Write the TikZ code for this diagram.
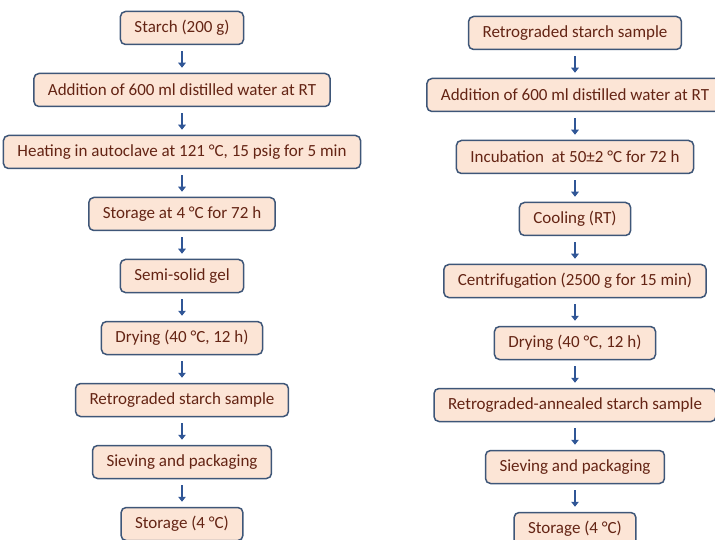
\documentclass[tikz,border=0pt]{standalone}
\usepackage{fontspec}
\setmainfont{Carlito}
\usepackage{tikz}
\usetikzlibrary{positioning, arrows.meta}
\usepackage{xcolor}
\definecolor{mpeach}{RGB}{252,229,214}
\definecolor{mslate}{RGB}{62,86,120}
\definecolor{mbrown}{RGB}{100,36,20}
\definecolor{mblue}{RGB}{48,86,150}

\begin{document}
\begin{tikzpicture}[step box/.style={draw=mslate, line width=1.5pt, fill=mpeach, rounded corners=5pt,
                         minimum height=33pt, inner xsep=14pt, text=mbrown,
                         font=\fontsize{17}{20}\selectfont},
    arrow/.style={-{Triangle[length=5pt, width=7.5pt]}, line width=2.6pt, mblue,
                  shorten <=6pt, shorten >=5pt},
    node distance=62pt,
]
\useasboundingbox (0,0) rectangle (715pt,-540pt);
\clip (0,0) rectangle (715pt,-540pt);

% left column
\node[step box] (starch) at (182pt,-28pt) {Starch (200 g)};
\node[below of=starch, step box] (water) {Addition of 600 ml distilled water at RT};
\node[below of=water, step box] (autoclave) {Heating in autoclave at 121 °C, 15 psig for 5 min};
\node[below of=autoclave, step box] (storage) {Storage at 4 °C for 72 h};
\node[below of=storage, step box] (gel) {Semi-solid gel};
\node[below of=gel, step box] (drying) {Drying (40 °C, 12 h)};
\node[below of=drying, step box] (rsample) {Retrograded starch sample};
\node[below of=rsample, step box] (sieving) {Sieving and packaging};
\node[below of=sieving, step box] (store) {Storage (4 °C)};

% right column
\node[step box] (rstart) at (575pt,-33pt) {Retrograded starch sample};
\node[below of=rstart, step box] (rwater) {Addition of 600 ml distilled water at RT};
\node[below of=rwater, step box] (incub) {Incubation\ \ at 50±2 °C for 72 h};
\node[below of=incub, step box] (cooling) {Cooling (RT)};
\node[below of=cooling, step box] (centrif) {Centrifugation (2500 g for 15 min)};
\node[below of=centrif, step box] (rdrying) {Drying (40 °C, 12 h)};
\node[below of=rdrying, step box] (annealed) {Retrograded-annealed starch sample};
\node[below of=annealed, step box] (rsieving) {Sieving and packaging};
\node[below of=rsieving, step box] (rstore) {Storage (4 °C)};

\draw[arrow] (starch) -- (water);
\draw[arrow] (water) -- (autoclave);
\draw[arrow] (autoclave) -- (storage);
\draw[arrow] (storage) -- (gel);
\draw[arrow] (gel) -- (drying);
\draw[arrow] (drying) -- (rsample);
\draw[arrow] (rsample) -- (sieving);
\draw[arrow] (sieving) -- (store);

\draw[arrow] (rstart) -- (rwater);
\draw[arrow] (rwater) -- (incub);
\draw[arrow] (incub) -- (cooling);
\draw[arrow] (cooling) -- (centrif);
\draw[arrow] (centrif) -- (rdrying);
\draw[arrow] (rdrying) -- (annealed);
\draw[arrow] (annealed) -- (rsieving);
\draw[arrow] (rsieving) -- (rstore);

\end{tikzpicture}
\end{document}
